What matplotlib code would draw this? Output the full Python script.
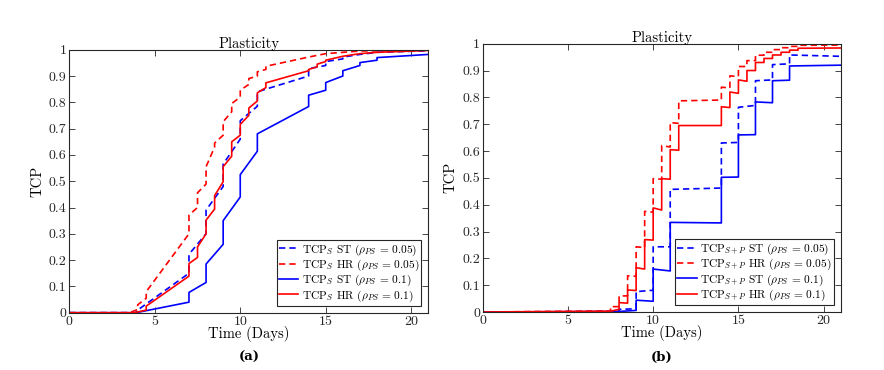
import matplotlib
matplotlib.use("Agg")
import matplotlib.pyplot as plt

plt.rcParams['font.family'] = ['cmr10', 'DejaVu Serif']
plt.rcParams['mathtext.fontset'] = 'cm'
plt.rcParams['axes.formatter.use_mathtext'] = True

# ---------------- Panel (a): TCP_S ----------------
a_st05_t = [0, 3.9, 4, 7, 7, 8, 8, 9, 9, 10, 10, 11, 11, 14, 14, 15, 15, 16, 16, 17, 18, 21]
a_st05_v = [0, 0, 0.01, 0.15, 0.222, 0.30, 0.39, 0.48, 0.565, 0.66, 0.73, 0.785, 0.84, 0.90, 0.928,
            0.94, 0.955, 0.965, 0.972, 0.982, 0.99, 0.996]

a_hr05_t = [0, 3.5, 4, 4, 4.5, 4.5, 7, 7, 7.5, 7.5, 8, 8, 8.5, 8.5, 9, 9, 9.5, 9.5, 10, 10,
            10.5, 10.5, 11, 11, 11.5, 11.5, 14, 15, 17, 21]
a_hr05_v = [0, 0, 0.012, 0.03, 0.055, 0.08, 0.30, 0.371, 0.40, 0.456, 0.489, 0.555, 0.63, 0.645,
            0.675, 0.726, 0.764, 0.795, 0.82, 0.846, 0.868, 0.89, 0.9, 0.916, 0.925, 0.937,
            0.972, 0.985, 0.995, 0.999]

a_st10_t = [0, 3.9, 7, 7, 8, 8, 9, 9, 10, 10, 11, 11, 14, 14, 15, 15, 16, 16, 17, 17, 18, 18, 21]
a_st10_v = [0, 0, 0.04, 0.077, 0.115, 0.185, 0.26, 0.35, 0.44, 0.525, 0.614, 0.68, 0.784, 0.827,
            0.846, 0.875, 0.9, 0.92, 0.94, 0.951, 0.96, 0.97, 0.982]

a_hr10_t = [0, 3.8, 4.5, 4.5, 7, 7, 7.5, 7.5, 8, 8, 8.5, 8.5, 9, 9, 9.5, 9.5, 10, 10, 10.5, 10.5,
            11, 11, 11.5, 11.5, 14, 14, 14.5, 14.5, 15, 15, 16, 17, 18, 21]
a_hr10_v = [0, 0, 0.01, 0.025, 0.139, 0.187, 0.21, 0.25, 0.30, 0.352, 0.394, 0.445, 0.498, 0.555,
            0.595, 0.65, 0.675, 0.716, 0.75, 0.778, 0.805, 0.836, 0.856, 0.874, 0.92, 0.925,
            0.935, 0.945, 0.955, 0.96, 0.975, 0.985, 0.99, 0.997]

# ---------------- Panel (b): TCP_{S+P} ----------------
b_st05_t = [0, 7.8, 8, 8, 9, 9, 10, 10, 11, 11, 14, 14, 15, 15, 16, 16, 17, 17, 18, 18, 21]
b_st05_v = [0, 0, 0.003, 0.01, 0.012, 0.076, 0.081, 0.243, 0.243, 0.457, 0.462, 0.63, 0.632,
            0.763, 0.77, 0.862, 0.865, 0.922, 0.925, 0.958, 0.953]

b_hr05_t = [0, 7.5, 7.5, 8, 8, 8.5, 8.5, 9, 9, 9.5, 9.5, 10, 10, 10.5, 10.5, 11, 11, 11.5, 11.5,
            14, 14, 14.5, 14.5, 15, 15, 15.5, 15.5, 16, 16, 16.5, 16.5, 17, 17, 17.5, 17.5,
            18, 18, 18.5, 18.5, 21]
b_hr05_v = [0, 0.004, 0.02, 0.02, 0.06, 0.06, 0.135, 0.133, 0.243, 0.24, 0.375, 0.372, 0.497,
            0.495, 0.62, 0.615, 0.706, 0.703, 0.787, 0.79, 0.838, 0.835, 0.88, 0.878, 0.915,
            0.915, 0.937, 0.937, 0.957, 0.957, 0.968, 0.968, 0.978, 0.978, 0.985, 0.985, 0.99,
            0.99, 0.994, 0.995]

b_st10_t = [0, 8, 9, 9, 10, 10, 11, 11, 14, 14, 15, 15, 16, 16, 17, 17, 18, 18, 21]
b_st10_v = [0, 0.002, 0.006, 0.044, 0.04, 0.16, 0.153, 0.334, 0.332, 0.502, 0.503, 0.66, 0.661,
            0.783, 0.78, 0.862, 0.864, 0.917, 0.92]

b_hr10_t = [0, 7.5, 8, 8, 8.5, 8.5, 9, 9, 9.5, 9.5, 10, 10, 10.5, 10.5, 11, 11, 11.5, 11.5,
            14, 14, 14.5, 14.5, 15, 15, 15.5, 15.5, 16, 16, 16.5, 16.5, 17, 17, 17.5, 17.5,
            18, 18, 18.5, 18.5, 21]
b_hr10_v = [0, 0.003, 0.01, 0.035, 0.033, 0.082, 0.08, 0.165, 0.16, 0.27, 0.268, 0.388, 0.38,
            0.497, 0.495, 0.605, 0.603, 0.695, 0.695, 0.765, 0.762, 0.82, 0.815, 0.865, 0.86,
            0.9, 0.9, 0.93, 0.93, 0.945, 0.945, 0.958, 0.958, 0.968, 0.968, 0.976, 0.976,
            0.983, 0.984]

x_ticks = [0, 5, 10, 15, 20]
y_ticks = [0, 0.1, 0.2, 0.3, 0.4, 0.5, 0.6, 0.7, 0.8, 0.9, 1]
y_tick_labels = ['0', '0.1', '0.2', '0.3', '0.4', '0.5', '0.6', '0.7', '0.8', '0.9', '1']

labels_a = [r'TCP$_S$ ST ($\rho_{PS}\,=\,0.05$)', r'TCP$_S$ HR ($\rho_{PS}\,=\,0.05$)',
            r'TCP$_S$ ST ($\rho_{PS}\,=\,0.1$)', r'TCP$_S$ HR ($\rho_{PS}\,=\,0.1$)']
labels_b = [r'TCP$_{S+P}$ ST ($\rho_{PS}\,=\,0.05$)', r'TCP$_{S+P}$ HR ($\rho_{PS}\,=\,0.05$)',
            r'TCP$_{S+P}$ ST ($\rho_{PS}\,=\,0.1$)', r'TCP$_{S+P}$ HR ($\rho_{PS}\,=\,0.1$)']

W, H = 884, 370
fig = plt.figure(figsize=(W / 100, H / 100), dpi=100)
ax_a = fig.add_axes([69.3 / W, (H - 312.7) / H, (428.3 - 69.3) / W, (312.7 - 49.7) / H])
ax_b = fig.add_axes([482.7 / W, (H - 312.0) / H, (840.7 - 482.7) / W, (312.0 - 43.7) / H])

dash = (0, (3.8, 2.4))
spine_c = '#262626'


def draw(ax, series, labels, panel):
    colors = ['#0000ff', '#ff0000', '#0000ff', '#ff0000']
    styles = [dash, dash, '-', '-']
    for (t, v), c, ls, lab in zip(series, colors, styles, labels):
        ax.plot(t, v, color=c, linestyle=ls, linewidth=1.2, label=lab)
    ax.set_xlim(0, 21)
    ax.set_ylim(0, 1)
    ax.set_xticks(x_ticks)
    ax.set_xticklabels([str(x) for x in x_ticks])
    ax.set_yticks(y_ticks)
    ax.set_yticklabels(y_tick_labels)
    ax.tick_params(direction='in', top=True, right=True, length=4, width=0.6,
                   labelsize=10, pad=2, colors=spine_c, labelcolor='#262626')
    for s in ax.spines.values():
        s.set_linewidth(0.8)
        s.set_color(spine_c)
    ax.set_title('Plasticity', fontsize=10.5, pad=1)
    ax.set_xlabel('Time (Days)', fontsize=10.5, labelpad=-1)
    ax.set_ylabel('TCP', fontsize=10.5, labelpad=3)
    leg = ax.legend(loc='lower right', fontsize=8.2, handlelength=1.7, handletextpad=0.3,
                    labelspacing=0.0, borderpad=0.2, borderaxespad=0.6, frameon=True,
                    fancybox=False, framealpha=1)
    leg.get_frame().set_edgecolor('#262626')
    leg.get_frame().set_linewidth(0.8)
    ax.text(0.5, -0.145, panel, transform=ax.transAxes, ha='center', va='top',
            fontsize=9.5, fontweight='bold', family=['DejaVu Serif'])


draw(ax_a, [(a_st05_t, a_st05_v), (a_hr05_t, a_hr05_v), (a_st10_t, a_st10_v), (a_hr10_t, a_hr10_v)],
     labels_a, '(a)')
draw(ax_b, [(b_st05_t, b_st05_v), (b_hr05_t, b_hr05_v), (b_st10_t, b_st10_v), (b_hr10_t, b_hr10_v)],
     labels_b, '(b)')

fig.savefig('out.png', dpi=100)
